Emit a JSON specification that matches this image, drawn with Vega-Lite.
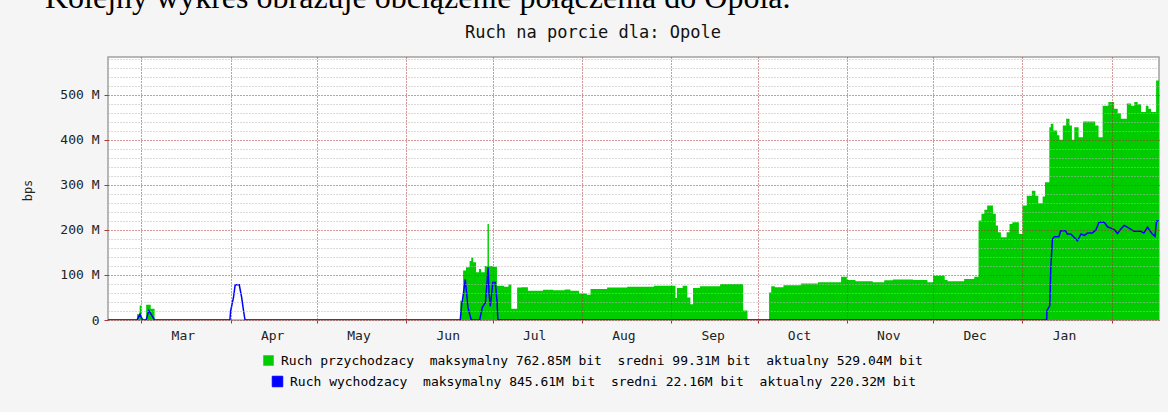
{
  "$schema": "https://vega.github.io/schema/vega-lite/v6.json",
  "width": 1051,
  "height": 263,
  "autosize": {"type": "none"},
  "padding": {"left": 108, "top": 57, "right": 9, "bottom": 92},
  "background": "#f5f5f5",
  "title": {
    "text": "Kolejny wykres obrazuje obciążenie połączenia do Opola.",
    "anchor": "start",
    "frame": "group",
    "dx": -63,
    "offset": -17,
    "baseline": "alphabetic",
    "font": "Liberation Serif",
    "fontSize": 32,
    "fontWeight": "normal",
    "color": "#000000"
  },
  "datasets": {
    "inb": [
      {"t": "2006-02-17T10:00", "v": 0},
      {"t": "2006-02-27T12:00", "v": 13},
      {"t": "2006-02-28T10:00", "v": 32},
      {"t": "2006-03-01T00:00", "v": 5},
      {"t": "2006-03-01T16:00", "v": 0},
      {"t": "2006-03-02T16:00", "v": 34},
      {"t": "2006-03-04T06:00", "v": 25},
      {"t": "2006-03-05T14:00", "v": 0},
      {"t": "2006-06-19T18:00", "v": 43},
      {"t": "2006-06-20T18:00", "v": 110},
      {"t": "2006-06-21T18:00", "v": 117},
      {"t": "2006-06-23T00:00", "v": 131},
      {"t": "2006-06-23T14:00", "v": 139},
      {"t": "2006-06-24T06:00", "v": 128},
      {"t": "2006-06-25T06:00", "v": 106},
      {"t": "2006-06-26T06:00", "v": 113},
      {"t": "2006-06-27T00:00", "v": 106},
      {"t": "2006-06-28T06:00", "v": 120},
      {"t": "2006-06-29T05:00", "v": 213},
      {"t": "2006-06-29T17:00", "v": 120},
      {"t": "2006-07-01T00:00", "v": 118},
      {"t": "2006-07-02T12:00", "v": 76},
      {"t": "2006-07-05T00:00", "v": 74},
      {"t": "2006-07-06T12:00", "v": 79},
      {"t": "2006-07-07T12:00", "v": 25},
      {"t": "2006-07-09T12:00", "v": 72},
      {"t": "2006-07-11T00:00", "v": 73},
      {"t": "2006-07-13T06:00", "v": 65},
      {"t": "2006-07-18T12:00", "v": 67},
      {"t": "2006-07-22T00:00", "v": 66},
      {"t": "2006-07-26T00:00", "v": 68},
      {"t": "2006-07-28T00:00", "v": 65},
      {"t": "2006-07-31T00:00", "v": 59},
      {"t": "2006-08-02T18:00", "v": 56},
      {"t": "2006-08-04T00:00", "v": 69},
      {"t": "2006-08-09T18:00", "v": 72},
      {"t": "2006-08-16T18:00", "v": 74},
      {"t": "2006-08-26T00:00", "v": 76},
      {"t": "2006-09-02T12:00", "v": 49},
      {"t": "2006-09-03T00:00", "v": 71},
      {"t": "2006-09-05T00:00", "v": 76},
      {"t": "2006-09-06T14:00", "v": 50},
      {"t": "2006-09-07T16:00", "v": 35},
      {"t": "2006-09-08T14:00", "v": 71},
      {"t": "2006-09-11T00:00", "v": 75},
      {"t": "2006-09-18T00:00", "v": 80},
      {"t": "2006-09-26T00:00", "v": 21},
      {"t": "2006-09-27T12:00", "v": 0},
      {"t": "2006-10-05T00:00", "v": 61},
      {"t": "2006-10-05T18:00", "v": 75},
      {"t": "2006-10-07T00:00", "v": 73},
      {"t": "2006-10-10T00:00", "v": 77},
      {"t": "2006-10-16T00:00", "v": 81},
      {"t": "2006-10-22T00:00", "v": 84},
      {"t": "2006-10-30T00:00", "v": 96},
      {"t": "2006-11-01T00:00", "v": 89},
      {"t": "2006-11-04T00:00", "v": 86},
      {"t": "2006-11-10T00:00", "v": 84},
      {"t": "2006-11-14T00:00", "v": 88},
      {"t": "2006-11-17T00:00", "v": 90},
      {"t": "2006-11-24T00:00", "v": 89},
      {"t": "2006-11-29T00:00", "v": 84},
      {"t": "2006-12-01T00:00", "v": 98},
      {"t": "2006-12-05T00:00", "v": 89},
      {"t": "2006-12-06T00:00", "v": 86},
      {"t": "2006-12-11T18:00", "v": 91},
      {"t": "2006-12-15T06:00", "v": 96},
      {"t": "2006-12-16T18:00", "v": 221},
      {"t": "2006-12-17T18:00", "v": 236},
      {"t": "2006-12-18T18:00", "v": 245},
      {"t": "2006-12-19T18:00", "v": 254},
      {"t": "2006-12-21T18:00", "v": 236},
      {"t": "2006-12-22T18:00", "v": 210},
      {"t": "2006-12-23T12:00", "v": 195},
      {"t": "2006-12-24T12:00", "v": 184},
      {"t": "2006-12-26T12:00", "v": 195},
      {"t": "2006-12-27T12:00", "v": 213},
      {"t": "2006-12-28T12:00", "v": 217},
      {"t": "2006-12-30T18:00", "v": 191},
      {"t": "2007-01-01T00:00", "v": 254},
      {"t": "2007-01-02T12:00", "v": 276},
      {"t": "2007-01-04T06:00", "v": 287},
      {"t": "2007-01-05T12:00", "v": 276},
      {"t": "2007-01-06T12:00", "v": 259},
      {"t": "2007-01-08T00:00", "v": 274},
      {"t": "2007-01-08T20:00", "v": 306},
      {"t": "2007-01-10T08:00", "v": 428},
      {"t": "2007-01-10T20:00", "v": 436},
      {"t": "2007-01-11T18:00", "v": 421},
      {"t": "2007-01-13T00:00", "v": 410},
      {"t": "2007-01-13T20:00", "v": 400},
      {"t": "2007-01-15T00:00", "v": 432},
      {"t": "2007-01-16T04:00", "v": 447},
      {"t": "2007-01-17T08:00", "v": 432},
      {"t": "2007-01-18T04:00", "v": 400},
      {"t": "2007-01-19T00:00", "v": 428},
      {"t": "2007-01-20T12:00", "v": 406},
      {"t": "2007-01-22T00:00", "v": 441},
      {"t": "2007-01-26T06:00", "v": 432},
      {"t": "2007-01-27T10:00", "v": 406},
      {"t": "2007-01-28T20:00", "v": 476},
      {"t": "2007-01-30T20:00", "v": 484},
      {"t": "2007-02-01T20:00", "v": 469},
      {"t": "2007-02-03T02:00", "v": 459},
      {"t": "2007-02-04T04:00", "v": 447},
      {"t": "2007-02-06T06:00", "v": 481},
      {"t": "2007-02-07T16:00", "v": 476},
      {"t": "2007-02-08T20:00", "v": 484},
      {"t": "2007-02-10T00:00", "v": 479},
      {"t": "2007-02-11T04:00", "v": 462},
      {"t": "2007-02-12T20:00", "v": 476},
      {"t": "2007-02-13T18:00", "v": 469},
      {"t": "2007-02-14T16:00", "v": 462},
      {"t": "2007-02-16T10:00", "v": 532},
      {"t": "2007-02-17T10:00", "v": 532}
    ],
    "outb": [
      {"t": "2006-02-17T10:00", "v": 0},
      {"t": "2006-02-27T12:00", "v": 0},
      {"t": "2006-02-28T12:00", "v": 13},
      {"t": "2006-03-01T08:00", "v": 0},
      {"t": "2006-03-02T16:00", "v": 0},
      {"t": "2006-03-03T14:00", "v": 21},
      {"t": "2006-03-05T14:00", "v": 0},
      {"t": "2006-03-31T18:00", "v": 0},
      {"t": "2006-04-01T00:00", "v": 20},
      {"t": "2006-04-02T00:00", "v": 50},
      {"t": "2006-04-02T14:00", "v": 78},
      {"t": "2006-04-04T00:00", "v": 78},
      {"t": "2006-04-04T20:00", "v": 50},
      {"t": "2006-04-05T12:00", "v": 20},
      {"t": "2006-04-06T00:00", "v": 0},
      {"t": "2006-06-19T18:00", "v": 0},
      {"t": "2006-06-20T06:00", "v": 35},
      {"t": "2006-06-20T12:00", "v": 43},
      {"t": "2006-06-21T12:00", "v": 90},
      {"t": "2006-06-22T10:00", "v": 28},
      {"t": "2006-06-23T14:00", "v": 0},
      {"t": "2006-06-26T12:00", "v": 0},
      {"t": "2006-06-27T10:00", "v": 28},
      {"t": "2006-06-28T12:00", "v": 39},
      {"t": "2006-06-29T00:00", "v": 80},
      {"t": "2006-06-29T10:00", "v": 117},
      {"t": "2006-06-29T18:00", "v": 60},
      {"t": "2006-06-30T04:00", "v": 30},
      {"t": "2006-07-01T02:00", "v": 83},
      {"t": "2006-07-01T22:00", "v": 83},
      {"t": "2006-07-02T12:00", "v": 43},
      {"t": "2006-07-02T20:00", "v": 0},
      {"t": "2007-01-09T10:00", "v": 0},
      {"t": "2007-01-09T12:00", "v": 21},
      {"t": "2007-01-10T12:00", "v": 32},
      {"t": "2007-01-10T20:00", "v": 117},
      {"t": "2007-01-11T10:00", "v": 180},
      {"t": "2007-01-12T00:00", "v": 185},
      {"t": "2007-01-13T16:00", "v": 185},
      {"t": "2007-01-14T06:00", "v": 198},
      {"t": "2007-01-16T00:00", "v": 198},
      {"t": "2007-01-16T14:00", "v": 191},
      {"t": "2007-01-17T18:00", "v": 191},
      {"t": "2007-01-18T10:00", "v": 187},
      {"t": "2007-01-20T02:00", "v": 176},
      {"t": "2007-01-21T08:00", "v": 191},
      {"t": "2007-01-22T12:00", "v": 188},
      {"t": "2007-01-23T14:00", "v": 193},
      {"t": "2007-01-25T06:00", "v": 193},
      {"t": "2007-01-26T12:00", "v": 200},
      {"t": "2007-01-27T14:00", "v": 217},
      {"t": "2007-01-29T10:00", "v": 217},
      {"t": "2007-01-30T12:00", "v": 207},
      {"t": "2007-01-31T16:00", "v": 204},
      {"t": "2007-02-02T00:00", "v": 200},
      {"t": "2007-02-03T00:00", "v": 192},
      {"t": "2007-02-04T04:00", "v": 202},
      {"t": "2007-02-05T08:00", "v": 210},
      {"t": "2007-02-07T00:00", "v": 204},
      {"t": "2007-02-08T18:00", "v": 197},
      {"t": "2007-02-11T02:00", "v": 197},
      {"t": "2007-02-12T04:00", "v": 193},
      {"t": "2007-02-13T10:00", "v": 206},
      {"t": "2007-02-15T02:00", "v": 191},
      {"t": "2007-02-16T00:00", "v": 186},
      {"t": "2007-02-16T14:00", "v": 220},
      {"t": "2007-02-17T10:00", "v": 220}
    ]
  },
  "layer": [
    {
      "data": {"name": "inb"},
      "mark": {"type": "area", "interpolate": "step-after", "clip": true, "opacity": 1},
      "encoding": {
        "x": {
          "field": "t",
          "type": "temporal",
          "scale": {"domain": [{"year": 2006, "month": 2, "date": 17, "hours": 10}, {"year": 2007, "month": 2, "date": 17, "hours": 10}]},
          "axis": {
            "orient": "bottom",
            "title": null,
            "tickCount": {"interval": "month", "step": 1},
            "labelExpr": "month(datum.value) == 1 ? '' : timeFormat(datum.value, '%b')",
            "labelOffset": 41.5,
            "labelAlign": "center",
            "labelFlush": false,
            "labelOverlap": false,
            "labelBound": false,
            "labelPadding": 6,
            "tickColor": "#b03030",
            "tickSize": 3,
            "tickWidth": 1,
            "domain": false,
            "grid": true,
            "gridColor": "#a83030",
            "gridDash": [1, 2],
            "gridWidth": 1,
            "zindex": 2
          }
        },
        "y": {
          "field": "v",
          "type": "quantitative",
          "scale": {"domain": [0, 584], "nice": false, "zero": true},
          "axis": {
            "orient": "left",
            "title": "bps",
            "values": [0, 100, 200, 300, 400, 500],
            "labelExpr": "datum.value == 0 ? '0' : datum.value + ' M'",
            "tickColor": "#b03030",
            "tickSize": 4,
            "labelPadding": 5,
            "domain": false,
            "grid": true,
            "gridColor": "#a83030",
            "gridDash": [1, 2],
            "gridWidth": 1,
            "zindex": 2,
            "titleFont": "DejaVu Sans Mono",
            "titleFontSize": 12,
            "titleFontWeight": "normal",
            "titleColor": "#222222",
            "titleX": -81,
            "titleY": 133,
            "titleAngle": 270,
            "titleAlign": "center",
            "titleBaseline": "middle"
          }
        },
        "fill": {
          "datum": "Ruch przychodzacy\u00a0 maksymalny 762.85M bit\u00a0 sredni 99.31M bit\u00a0 aktualny 529.04M bit",
          "scale": {"range": ["#00cc00"]},
          "legend": {
            "orient": "none",
            "legendX": 154,
            "legendY": 297,
            "title": null,
            "encode": {"symbols": {"update": {"fill": {"value": "#00cc00"}, "stroke": {"value": "#000000"}, "strokeWidth": {"value": 1}, "opacity": {"value": 1}}}}
          }
        }
      }
    },
    {
      "data": {"name": "outb"},
      "mark": {"type": "line", "interpolate": "linear", "strokeWidth": 1.5, "clip": true},
      "encoding": {
        "x": {
          "field": "t",
          "type": "temporal",
          "axis": {
            "orient": "top",
            "title": "Ruch na porcie dla: Opole",
            "labels": false,
            "ticks": false,
            "domain": false,
            "grid": false,
            "titleX": 484.5,
            "titleY": -25,
            "titleAngle": 0,
            "titleAlign": "center",
            "titleBaseline": "middle",
            "titleFont": "DejaVu Sans Mono",
            "titleFontSize": 17,
            "titleFontWeight": "normal",
            "titleColor": "#111111"
          }
        },
        "y": {
          "field": "v",
          "type": "quantitative",
          "axis": {
            "orient": "right",
            "title": null,
            "labels": false,
            "ticks": false,
            "domain": false,
            "grid": true,
            "values": [20, 40, 60, 80, 120, 140, 160, 180, 220, 240, 260, 280, 320, 340, 360, 380, 420, 440, 460, 480, 520, 540, 560, 580],
            "gridColor": "#b4b4b4",
            "gridDash": [1, 2],
            "gridWidth": 1,
            "zindex": 1
          }
        },
        "stroke": {
          "datum": "Ruch wychodzacy\u00a0 maksymalny 845.61M bit\u00a0 sredni 22.16M bit\u00a0 aktualny 220.32M bit",
          "scale": {"range": ["#0000ff"]},
          "legend": {
            "orient": "none",
            "legendX": 163,
            "legendY": 318,
            "title": null,
            "symbolType": "square",
            "encode": {"symbols": {"update": {"fill": {"value": "#0000ff"}, "stroke": {"value": "#000000"}, "strokeWidth": {"value": 1}, "opacity": {"value": 1}}}}
          }
        }
      }
    }
  ],
  "resolve": {"axis": {"x": "independent", "y": "independent"}},
  "config": {
    "view": {"fill": "#ffffff", "stroke": "#a0a0a0", "strokeWidth": 1.5},
    "axis": {"labelFont": "DejaVu Sans Mono", "labelFontSize": 13, "labelColor": "#222222"},
    "legend": {
      "labelFont": "DejaVu Sans Mono",
      "labelFontSize": 13,
      "labelColor": "#000000",
      "labelLimit": 1000,
      "labelOffset": 6,
      "padding": 0,
      "symbolType": "square",
      "symbolSize": 110,
      "symbolStrokeWidth": 1
    }
  }
}
